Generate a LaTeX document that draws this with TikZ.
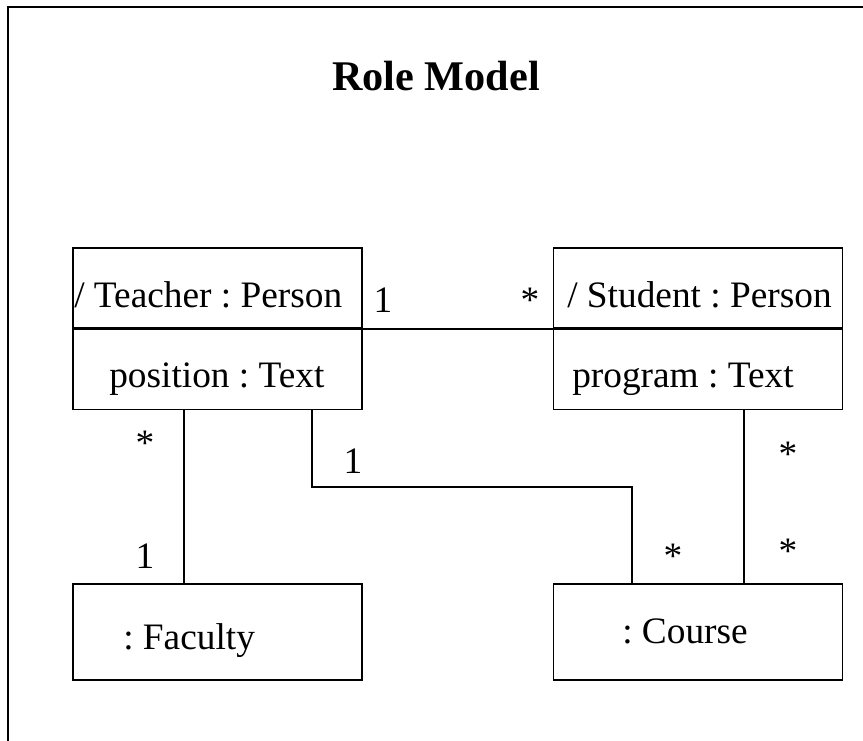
\documentclass[tikz,border=0pt]{standalone}
\usepackage{fontspec}
\setmainfont{Liberation Serif}
\usetikzlibrary{positioning,calc}
\frenchspacing
\tikzset{
  objbox/.style={draw, line width=1.3pt, minimum width=216.75pt, minimum height=60pt, inner sep=0pt},
  objtext/.style={font=\fontsize{28}{34}\selectfont, inner sep=0pt, anchor=base west},
  mult/.style={font=\fontsize{28}{34}\selectfont, inner sep=0pt, anchor=base},
  assoc/.style={line width=1.3pt},
}
\begin{document}
\begin{tikzpicture}[x=0.75pt, y=-0.75pt]
    \useasboundingbox (0,0) rectangle (863,740);
    \clip (0,0) rectangle (863,740);
    % 外框
    \draw[line width=2pt] (8,7) rectangle (900,800);

    % 标题
    \node[font=\bfseries\fontsize{31.7}{38}\selectfont, inner sep=0pt, anchor=base] (title) at (436,90) {Role Model};

    % Teacher
    \node[objbox, anchor=north west] (teacher) at (72,247) {};
    \node[objbox, below=0pt of teacher] (teacherattr) {};
    \node[objtext] (teachername) at (74,307) {/ Teacher : Person};
    \node[objtext] (teacherpos) at (109,387) {position : Text};

    % Student
    \node[objbox, anchor=north west] (student) at (552.5,247) {};
    \node[objbox, below=0pt of student] (studentattr) {};
    \node[objtext] (studentname) at (567,307) {/ Student : Person};
    \node[objtext] (studentprog) at (572,387) {program : Text};

    % Faculty, Course
    \node[objbox, anchor=north west, minimum height=72pt] (faculty) at (72,583) {};
    \node[objtext] (facultyname) at (123,649) {: Faculty};
    \node[objbox, anchor=north west, minimum height=72pt] (course) at (552.5,583) {};
    \node[objtext] (coursename) at (622,643) {: Course};

    % 关联
    \draw[assoc] (teacher.south east) -- (student.south west);
    \draw[assoc] ($(teacherattr.south west)+(112,0)$) -- ($(faculty.north west)+(112,0)$);
    \draw[assoc] ($(teacherattr.south west)+(240,0)$) |- ($(course.north west)+(79.5,-96)$) -- ($(course.north west)+(79.5,0)$);
    \draw[assoc] ($(course.north west)+(191.5,0)$) coordinate (cs) -- (cs |- studentattr.south);

    % 多重性
    \node[mult] (m1) at (383,312) {1};
    \node[mult] (m2) at (530,312) {*};
    \node[mult] (m3) at (145,455) {*};
    \node[mult] (m4) at (145,568) {1};
    \node[mult] (m5) at (353,473) {1};
    \node[mult] (m6) at (673,568) {*};
    \node[mult] (m7) at (788,466) {*};
    \node[mult] (m8) at (788,563) {*};
\end{tikzpicture}
\end{document}
